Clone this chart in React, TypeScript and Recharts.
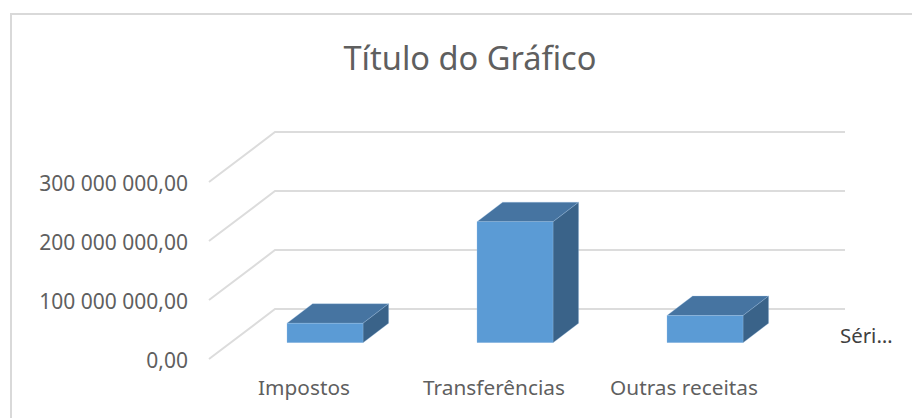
import React from 'react';
import { BarChart, Bar, XAxis, YAxis, CartesianGrid, Legend } from 'recharts';

const categories = ['Impostos', 'Transferências', 'Outras receitas'];
const seriesValues = [33000000, 205000000, 46000000];
const yTicks = [0, 100000000, 200000000, 300000000];

const data = categories.map((name, i) => ({ name, value: seriesValues[i] }));

const FONT = '"Noto Sans"';

// floor depth of the fake 3D wall, and where the bars stand on that floor
const WALL_DX = 66;
const WALL_DY = 50;
const BAR_SHIFT_X = 21;
const BAR_SHIFT_Y = 16.3;
const BOX_DX = 25.6;
const BOX_DY = 19.5;

const formatTick = (v: number) =>
    v.toLocaleString('en-US', { minimumFractionDigits: 2 }).replace(/,/g, ' ').replace('.', ',');

const GridLine = (props: any) => {
    const { x1, x2, y1 } = props;
    return (
        <polyline
            points={`${x1},${y1} ${x1 + WALL_DX},${y1 - WALL_DY} ${x2 + WALL_DX},${y1 - WALL_DY}`}
            fill="none"
            stroke="#dcdcdc"
            strokeWidth={2}
        />
    );
};

const Box3D = (props: any) => {
    const { x, y, width, height } = props;
    const l = x + BAR_SHIFT_X;
    const r = l + width;
    const t = y - BAR_SHIFT_Y;
    const b = t + height;
    return (
        <g stroke="#9dc3e6" strokeWidth={0.5} strokeOpacity={0.6}>
            <polygon
                points={`${l},${t} ${l + BOX_DX},${t - BOX_DY} ${r + BOX_DX},${t - BOX_DY} ${r},${t}`}
                fill="#4674a1"
            />
            <polygon
                points={`${r},${t} ${r + BOX_DX},${t - BOX_DY} ${r + BOX_DX},${b - BOX_DY} ${r},${b}`}
                fill="#3a6389"
            />
            <rect x={l} y={t} width={width} height={height} fill="#5b9bd5" />
        </g>
    );
};

const LegendText = () => (
    <div style={{ fontFamily: FONT, fontSize: 20.4, color: '#404040', lineHeight: '24px' }}>Séri…</div>
);

export default function App() {
    return (
        <div style={{ position: 'fixed', left: 0, top: 0, width: 912, height: 418, background: '#fff', overflow: 'hidden' }}>
            <div
                style={{
                    position: 'absolute', left: 10, top: 13, width: 920, height: 420,
                    borderLeft: '2px solid #d9d9d9', borderTop: '2px solid #d9d9d9', boxSizing: 'border-box',
                }}
            />
            <div
                style={{
                    position: 'absolute', left: 0, width: 940, top: 37, textAlign: 'center',
                    fontFamily: FONT, fontSize: 32.6, lineHeight: '42px', color: '#5f5f5f',
                }}
            >
                Título do Gráfico
            </div>
            <div style={{ position: 'absolute', left: 0, top: 0 }}>
                <BarChart
                    width={912}
                    height={418}
                    data={data}
                    margin={{ top: 182, right: 133, bottom: 29, left: 9 }}
                >
                    <CartesianGrid vertical={false} horizontal={GridLine} />
                    <XAxis
                        dataKey="name"
                        axisLine={false}
                        tickLine={false}
                        tickMargin={15}
                        interval={0}
                        tick={{ fontFamily: FONT, fontSize: 20.8, fill: '#5f5f5f' }}
                    />
                    <YAxis
                        width={200}
                        domain={[0, 300000000]}
                        ticks={yTicks}
                        tickFormatter={formatTick}
                        axisLine={false}
                        tickLine={false}
                        tickMargin={15}
                        tick={{ fontFamily: FONT, fontSize: 21, fill: '#5f5f5f', dy: 1.5 }}
                    />
                    <Legend
                        layout="horizontal"
                        verticalAlign="middle"
                        align="center"
                        content={LegendText}
                        wrapperStyle={{ left: 840, top: 323, width: 70, bottom: 'auto' }}
                    />
                    <Bar dataKey="value" name="Série1" barSize={76} shape={Box3D} isAnimationActive={false} />
                </BarChart>
            </div>
        </div>
    );
}
